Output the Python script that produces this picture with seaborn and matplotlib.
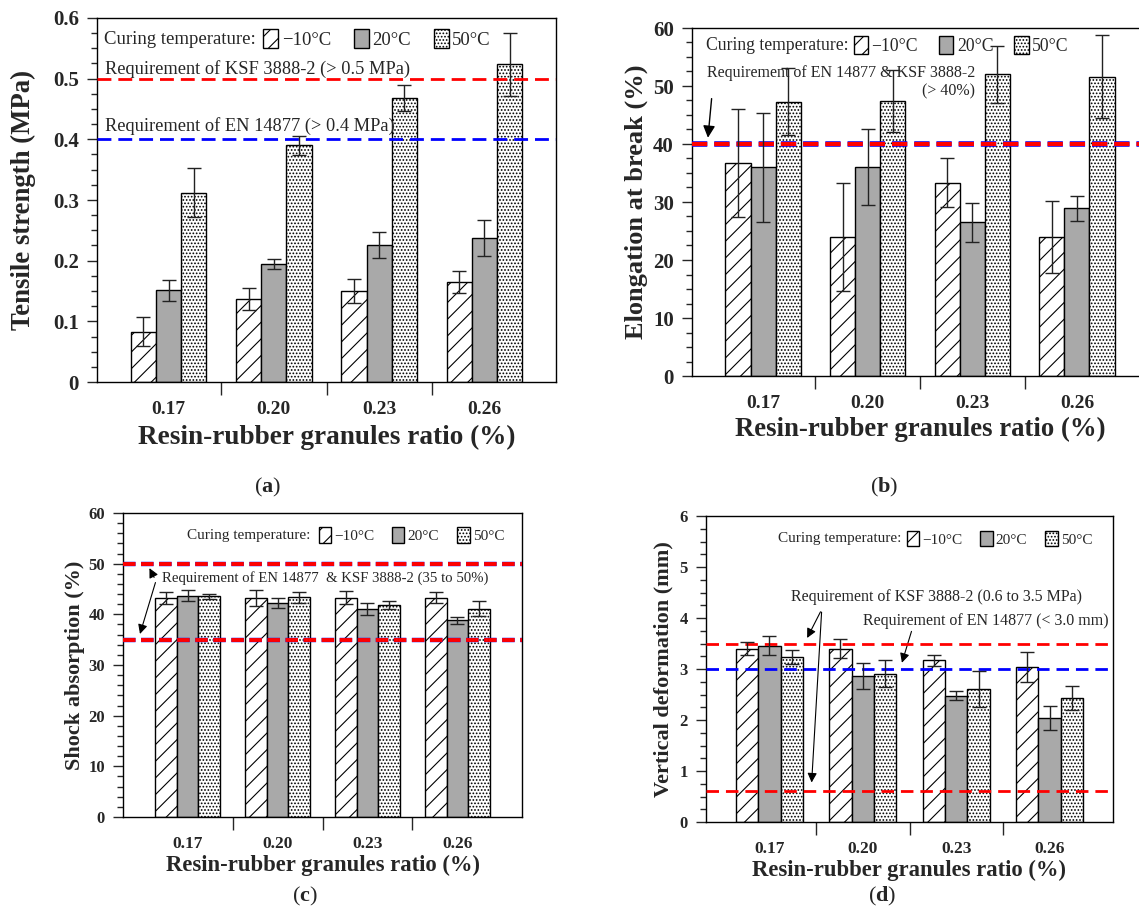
import matplotlib
matplotlib.use('Agg')
import matplotlib.pyplot as plt
import seaborn as sns
import pandas as pd
from matplotlib.patches import Patch
from matplotlib.ticker import MultipleLocator, FixedLocator

# categories
ratios = ["0.17", "0.20", "0.23", "0.26"]
temps = ["\u221210\u00b0C", "20\u00b0C", "50\u00b0C"]

# (a) tensile strength (MPa)
tensile_m10 = [0.083, 0.137, 0.150, 0.165]
tensile_20 = [0.151, 0.194, 0.226, 0.237]
tensile_50 = [0.312, 0.390, 0.468, 0.524]
tensile_m10_err = [0.024, 0.018, 0.019, 0.018]
tensile_20_err = [0.017, 0.008, 0.021, 0.030]
tensile_50_err = [0.040, 0.016, 0.021, 0.052]

# (b) elongation at break (%)
elong_m10 = [36.7, 24.0, 33.3, 24.0]
elong_20 = [36.0, 36.0, 26.5, 28.9]
elong_50 = [47.3, 47.4, 52.0, 51.6]
elong_m10_err = [9.3, 9.3, 4.2, 6.2]
elong_20_err = [9.4, 6.5, 3.4, 2.1]
elong_50_err = [5.8, 5.4, 4.9, 7.2]

# (c) shock absorption (%)
shock_m10 = [43.2, 43.3, 43.3, 43.3]
shock_20 = [43.7, 42.3, 41.0, 38.8]
shock_50 = [43.6, 43.4, 41.8, 41.1]
shock_m10_err = [1.2, 1.6, 1.3, 1.1]
shock_20_err = [1.1, 1.0, 1.2, 0.75]
shock_50_err = [0.5, 1.1, 0.8, 1.5]

# (d) vertical deformation (mm)
vdef_m10 = [3.40, 3.40, 3.17, 3.04]
vdef_20 = [3.46, 2.86, 2.48, 2.04]
vdef_50 = [3.24, 2.91, 2.61, 2.43]
vdef_m10_err = [0.13, 0.19, 0.11, 0.29]
vdef_20_err = [0.19, 0.25, 0.09, 0.23]
vdef_50_err = [0.14, 0.26, 0.35, 0.24]

COLORS = ["white", "#a9a9a9", "white"]
HATCHES = ["//", "", "....."]

sns.set_style("ticks")
plt.rcParams['font.family'] = ['Liberation Serif', 'DejaVu Serif']
plt.rcParams['mathtext.fontset'] = 'custom'
plt.rcParams['mathtext.rm'] = 'Liberation Serif'
plt.rcParams['mathtext.bf'] = 'Liberation Serif:bold'
plt.rcParams['hatch.linewidth'] = 0.8
plt.rcParams['lines.scale_dashes'] = False


def to_frame(m10, t20, t50):
    rows = []
    for temp, vals in zip(temps, [m10, t20, t50]):
        for r, v in zip(ratios, vals):
            rows.append({"ratio": r, "temp": temp, "value": v})
    return pd.DataFrame(rows)


def draw_panel(ax, df, errs, ylim, major, minor, xlim, tick_fs, xtick_fs, label_fs,
               ylabel, ylabel_x, xlabel_y, leg_x, leg_y, leg_fs, cur_x):
    sns.barplot(data=df, x="ratio", y="value", hue="temp", order=ratios, hue_order=temps,
                palette=COLORS, saturation=1, width=0.72, errorbar=None, legend=False,
                edgecolor="black", linewidth=1, ax=ax)
    for cont, hatch, err in zip(ax.containers, HATCHES, errs):
        for bar in cont:
            bar.set_hatch(hatch)
        xs = [b.get_x() + b.get_width() / 2 for b in cont]
        ys = [b.get_height() for b in cont]
        ax.errorbar(xs, ys, yerr=err, fmt='none', ecolor='#222222', elinewidth=1,
                    capsize=5, capthick=1, zorder=5)

    ax.set_xlim(*xlim)
    ax.set_ylim(*ylim)
    ax.yaxis.set_major_locator(MultipleLocator(major))
    ax.yaxis.set_minor_locator(MultipleLocator(minor))
    ax.set_xticks(range(4))
    ax.set_xticklabels(ratios, fontweight='bold', fontsize=xtick_fs)
    ax.xaxis.set_minor_locator(FixedLocator([0.5, 1.5, 2.5]))
    ax.tick_params(axis='x', which='major', length=0, pad=14)
    ax.tick_params(axis='x', which='minor', length=9, width=1, direction='out')
    ax.tick_params(axis='y', which='major', length=7, width=1, direction='out', pad=6,
                   labelsize=tick_fs)
    ax.tick_params(axis='y', which='minor', length=4, width=1, direction='out')
    for lab in ax.get_yticklabels():
        lab.set_fontweight('bold')
    ax.yaxis.set_major_formatter(matplotlib.ticker.FuncFormatter(
        lambda v, p: "0" if abs(v) < 1e-9 else ("%g" % v)))

    for sp in ax.spines.values():
        sp.set_visible(True)
        sp.set_color('black')
        sp.set_linewidth(1)

    ax.set_ylabel(ylabel, fontsize=label_fs, fontweight='bold')
    ax.set_xlabel("Resin-rubber granules ratio (%)", fontsize=label_fs + 0.3, fontweight='bold')
    ax.yaxis.set_label_coords(ylabel_x, 0.5)
    ax.xaxis.set_label_coords(0.5, xlabel_y)

    # legend: "Curing temperature:" then the three patches
    ax.text(cur_x, leg_y, "Curing temperature:", transform=ax.transAxes,
            ha='left', va='center', fontsize=leg_fs)
    handles = [Patch(facecolor=c, edgecolor='black', hatch=h, linewidth=1)
               for c, h in zip(COLORS, HATCHES)]
    ax.legend(handles, temps, loc='center left', bbox_to_anchor=(leg_x, leg_y), ncol=3,
              frameon=False, fontsize=leg_fs, handlelength=0.8, handleheight=1.2,
              handletextpad=0.2, columnspacing=1.2, borderpad=0, borderaxespad=0)


fig = plt.figure(figsize=(11.39, 9.13), dpi=100)
W, H = 1139, 913


def px_axes(left, top, right, bottom):
    return fig.add_axes([left / W, 1 - bottom / H, (right - left) / W, (bottom - top) / H])


# ---- (a) ----
ax_a = px_axes(97, 18, 556, 382)
draw_panel(ax_a, to_frame(tensile_m10, tensile_20, tensile_50),
           [tensile_m10_err, tensile_20_err, tensile_50_err],
           (0, 0.6), 0.1, 0.025, (-0.68, 3.68), 15, 14, 19.3,
           "Tensile strength (MPa)", -0.133, -0.118, 0.362, 0.942, 13.5, 0.015)
ax_a.axhline(0.5, color='red', lw=2, ls=(0, (10, 5)), zorder=4)
ax_a.axhline(0.4, color='blue', lw=2, ls=(0, (10, 5)), zorder=4)
ax_a.text(-0.6, 0.516, "Requirement of KSF 3888-2 (> 0.5 MPa)", fontsize=13.2, va='center')
ax_a.text(-0.6, 0.422, "Requirement of EN 14877 (> 0.4 MPa)", fontsize=13.2, va='center')

# ---- (b) ----
ax_b = px_axes(692, 28, 1148, 376)
draw_panel(ax_b, to_frame(elong_m10, elong_20, elong_50),
           [elong_m10_err, elong_20_err, elong_50_err],
           (0, 60), 10, 2.5, (-0.68, 3.68), 15, 14, 19,
           "Elongation at break (%)", -0.097, -0.118, 0.355, 0.951, 12.7, 0.031)
ax_b.axhline(40, color='blue', lw=4, ls=(0, (11, 5)), zorder=4)
ax_b.axhline(40, color='red', lw=3, ls=(0, (11, 5)), zorder=4)
ax_b.text(-0.54, 50.7, "Requirement of EN 14877 & KSF 3888-2\n(> 40%)", fontsize=11.5,
          va='center', ha='left', multialignment='right', linespacing=1.2)
ax_b.annotate('', xy=(-0.53, 40.6), xytext=(-0.49, 48.3),
              arrowprops=dict(arrowstyle='-|>', color='black', lw=1, mutation_scale=18))

# ---- (c) ----
ax_c = px_axes(123, 513, 522, 817)
draw_panel(ax_c, to_frame(shock_m10, shock_20, shock_50),
           [shock_m10_err, shock_20_err, shock_50_err],
           (0, 60), 10, 2, (-0.72, 3.72), 12, 12.5, 16,
           "Shock absorption (%)", -0.095, -0.125, 0.49, 0.927, 11, 0.16)
for lvl in (50, 35):
    ax_c.axhline(lvl, color='blue', lw=3.2, ls=(0, (9, 4)), zorder=4)
    ax_c.axhline(lvl, color='red', lw=2.8, ls=(0, (9, 4)), zorder=4)
ax_c.text(-0.29, 47.1, "Requirement of EN 14877  & KSF 3888-2 (35 to 50%)", fontsize=10.6,
          va='center')
ax_c.annotate('', xy=(-0.44, 49.6), xytext=(-0.36, 46.8),
              arrowprops=dict(arrowstyle='-|>', color='black', lw=0.8, mutation_scale=14))
ax_c.annotate('', xy=(-0.54, 35.6), xytext=(-0.35, 46.8),
              arrowprops=dict(arrowstyle='-|>', color='black', lw=0.8, mutation_scale=14))

# ---- (d) ----
ax_d = px_axes(706, 516, 1113, 822)
draw_panel(ax_d, to_frame(vdef_m10, vdef_20, vdef_50),
           [vdef_m10_err, vdef_20_err, vdef_50_err],
           (0, 6), 1, 0.25, (-0.68, 3.68), 12, 12.5, 16,
           "Vertical deformation (mm)", -0.081, -0.124, 0.493, 0.926, 11, 0.176)
ax_d.axhline(3.5, color='red', lw=2, ls=(0, (9, 5)), zorder=4)
ax_d.axhline(0.6, color='red', lw=2, ls=(0, (9, 5)), zorder=4)
ax_d.axhline(3.0, color='blue', lw=2, ls=(0, (9, 5)), zorder=4)
ax_d.text(0.23, 4.42, "Requirement of KSF 3888-2 (0.6 to 3.5 MPa)", fontsize=11.5, va='center')
ax_d.text(1.0, 3.94, "Requirement of EN 14877 (< 3.0 mm)", fontsize=11.5, va='center')
ax_d.annotate('', xy=(0.39, 3.56), xytext=(0.56, 4.17),
              arrowprops=dict(arrowstyle='-|>', color='black', lw=0.8, mutation_scale=14))
ax_d.annotate('', xy=(0.45, 0.72), xytext=(0.56, 4.17),
              arrowprops=dict(arrowstyle='-|>', color='black', lw=0.8, mutation_scale=14))
ax_d.annotate('', xy=(1.41, 3.07), xytext=(1.53, 3.79),
              arrowprops=dict(arrowstyle='-|>', color='black', lw=0.8, mutation_scale=14))

# panel captions
for lab, x, y in [("a", 268, 487), ("b", 884, 487), ("c", 305, 896), ("d", 882, 896)]:
    fig.text(x / W, 1 - y / H, r"($\mathbf{%s}$)" % lab, ha='center', va='center', fontsize=16)

fig.savefig("out.png", dpi=100)
